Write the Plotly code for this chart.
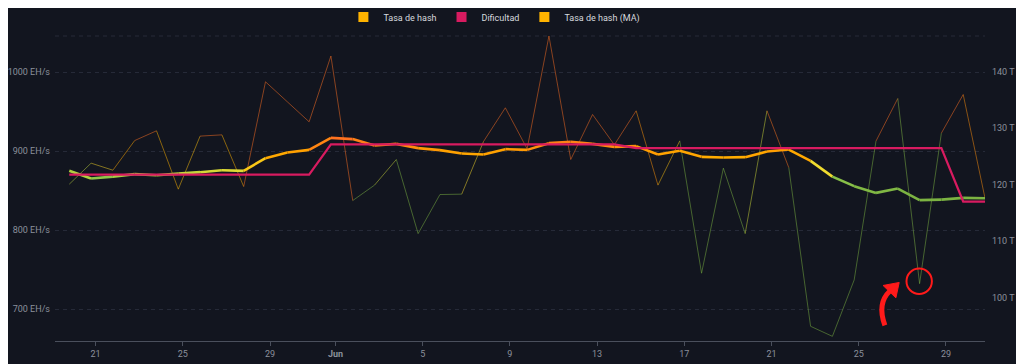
import plotly.graph_objects as go
import pandas as pd

# ---------------- data ----------------
dates = pd.date_range('2025-05-19 19:00', periods=43, freq='D')

hashrate = [858.2, 884.8, 875.9, 913.4, 925.7, 851.9, 919.0, 920.6, 855.2, 987.7,
            962.4, 937.1, 1020.3, 837.5, 857.0, 889.4, 795.7, 845.1, 845.6, 912.2,
            954.8, 902.9, 1045.6, 889.4, 946.3, 908.0, 951.0, 857.0, 913.0, 745.6,
            878.5, 795.7, 951.0, 879.2, 678.5, 665.8, 737.1, 912.7, 966.6, 732.4,
            922.8, 971.6, 840.5]

hashrate_ma = [875.1, 865.3, 867.8, 870.9, 869.6, 871.6, 873.4, 875.9, 875.1, 891.1,
               898.2, 901.6, 916.8, 915.2, 907.1, 909.2, 903.8, 901.3, 897.0, 895.7,
               902.5, 901.6, 910.1, 911.8, 909.2, 905.4, 906.3, 895.7, 900.4, 892.8,
               891.9, 892.4, 899.5, 902.0, 887.7, 867.8, 855.7, 847.2, 852.7, 838.0,
               838.7, 840.9, 840.5]

difficulty = [121.77] * 12 + [127.1] * 14 + [126.45] * 15 + [117.0] * 2

x_tick_vals = ['2025-05-21', '2025-05-25', '2025-05-29', '2025-06-01', '2025-06-05',
               '2025-06-09', '2025-06-13', '2025-06-17', '2025-06-21', '2025-06-25',
               '2025-06-29']
x_tick_text = ['21', '25', '29', '<b>Jun</b>', '5', '9', '13', '17', '21', '25', '29']
left_ticks = [700, 800, 900, 1000]
right_ticks = [100, 110, 120, 130, 140]

series_names = ['Tasa de hash', 'Dificultad', 'Tasa de hash (MA)']

# value -> colour stops for the hash-rate gradient
color_stops = [(845, (124, 179, 66)), (866, (139, 195, 74)), (872, (192, 213, 60)),
               (878, (242, 220, 46)), (888, (255, 179, 0)), (900, (255, 160, 0)),
               (917, (255, 111, 34))]

BG = '#12151f'
GRID = '#262a38'
AXIS = '#4a4f5c'
TICK_FONT = '#8b909b'
RED = '#ff1a1a'
FONT = 'Roboto, Noto Sans, sans-serif'


def value_color(v, alpha=1.0):
    if v <= color_stops[0][0]:
        c = color_stops[0][1]
    elif v >= color_stops[-1][0]:
        c = color_stops[-1][1]
    else:
        for (v0, c0), (v1, c1) in zip(color_stops[:-1], color_stops[1:]):
            if v0 <= v <= v1:
                t = (v - v0) / (v1 - v0)
                c = tuple(c0[k] + (c1[k] - c0[k]) * t for k in range(3))
                break
    return 'rgba(%d,%d,%d,%.2f)' % (round(c[0]), round(c[1]), round(c[2]), alpha)


fig = go.Figure()

# thin raw hash-rate line, coloured per segment
for i in range(len(dates) - 1):
    mid = (hashrate[i] + hashrate[i + 1]) / 2
    fig.add_trace(go.Scatter(
        x=[dates[i], dates[i + 1]], y=[hashrate[i], hashrate[i + 1]],
        mode='lines', line=dict(color=value_color(mid, 0.5), width=1),
        showlegend=False, hoverinfo='skip', legendgroup='hash'))

# difficulty
fig.add_trace(go.Scatter(
    x=dates, y=difficulty, yaxis='y2', mode='lines',
    line=dict(color='#d81b60', width=2.2), showlegend=False, legendgroup='diff'))

# moving average, coloured per segment
for i in range(len(dates) - 1):
    mid = (hashrate_ma[i] + hashrate_ma[i + 1]) / 2
    fig.add_trace(go.Scatter(
        x=[dates[i], dates[i + 1]], y=[hashrate_ma[i], hashrate_ma[i + 1]],
        mode='lines', line=dict(color=value_color(mid), width=2.6),
        showlegend=False, hoverinfo='skip', legendgroup='ma'))

# legend entries
for name, col, grp in zip(series_names, ['#ffb300', '#d81b60', '#ffb300'], ['hash', 'diff', 'ma']):
    fig.add_trace(go.Scatter(
        x=[None], y=[None], mode='markers', name=name, legendgroup=grp,
        marker=dict(symbol='square', size=10, color=col)))

# annotation: circle around the dip and curved arrow
pt_x = dates[39]
pt_y = hashrate[39]
shapes = [
    dict(type='line', xref='paper', yref='paper', x0=0, x1=1, y0=1, y1=1,
         line=dict(color=GRID, width=1, dash='4px,4px'), layer='below'),
    dict(type='circle', xref='x', yref='y', xsizemode='pixel', ysizemode='pixel',
         xanchor=pt_x, yanchor=pt_y, x0=-13.1, x1=12.3, y0=-10.3, y1=15.1,
         line=dict(color=RED, width=2)),
    dict(type='path', xref='x', yref='y', xsizemode='pixel', ysizemode='pixel',
         xanchor=pt_x, yanchor=pt_y,
         path='M -34.7,-41.6 Q -42.8,-19.6 -29.7,-7.3',
         line=dict(color=RED, width=5)),
    dict(type='path', xref='x', yref='y', xsizemode='pixel', ysizemode='pixel',
         xanchor=pt_x, yanchor=pt_y,
         path='M -36.5,-1.8 L -20.4,1.2 L -23.7,-14.2 Z',
         fillcolor=RED, line=dict(color=RED, width=1)),
]

fig.update_layout(
    width=1024, height=364, autosize=False,
    margin=dict(l=47, r=47, t=28, b=31, pad=0, autoexpand=False),
    paper_bgcolor=BG, plot_bgcolor=BG,
    font=dict(family=FONT, size=9, color=TICK_FONT),
    showlegend=True,
    legend=dict(orientation='h', x=0.475, xref='container', xanchor='center',
                y=0.975, yref='container', yanchor='middle',
                font=dict(family=FONT, size=9, color='#d6d9de'),
                bgcolor='rgba(0,0,0,0)', itemwidth=30, itemclick=False),
    xaxis=dict(type='date', range=['2025-05-19 03:17', '2025-06-30 19:00'],
               tickvals=x_tick_vals, ticktext=x_tick_text, showgrid=False,
               showline=True, linecolor=AXIS, linewidth=1, ticks='outside',
               ticklen=4, tickcolor=AXIS, zeroline=False, automargin=False,
               tickfont=dict(family=FONT, size=9, color=TICK_FONT)),
    yaxis=dict(range=[659.9, 1045.6], tickvals=left_ticks,
               ticktext=['%d EH/s' % v for v in left_ticks],
               showgrid=True, gridcolor=GRID, griddash='4px,4px', gridwidth=1,
               showline=False, zeroline=False, ticks='', ticklabelstandoff=4,
               automargin=False, tickfont=dict(family=FONT, size=9, color=TICK_FONT)),
    yaxis2=dict(range=[92.34, 146.27], overlaying='y', side='right',
                tickvals=right_ticks, ticktext=['%d T' % v for v in right_ticks],
                showgrid=False, showline=False, zeroline=False, ticks='',
                ticklabelstandoff=6, automargin=False,
                tickfont=dict(family=FONT, size=9, color=TICK_FONT)),
    shapes=shapes,
)

fig.write_html('out.html')
